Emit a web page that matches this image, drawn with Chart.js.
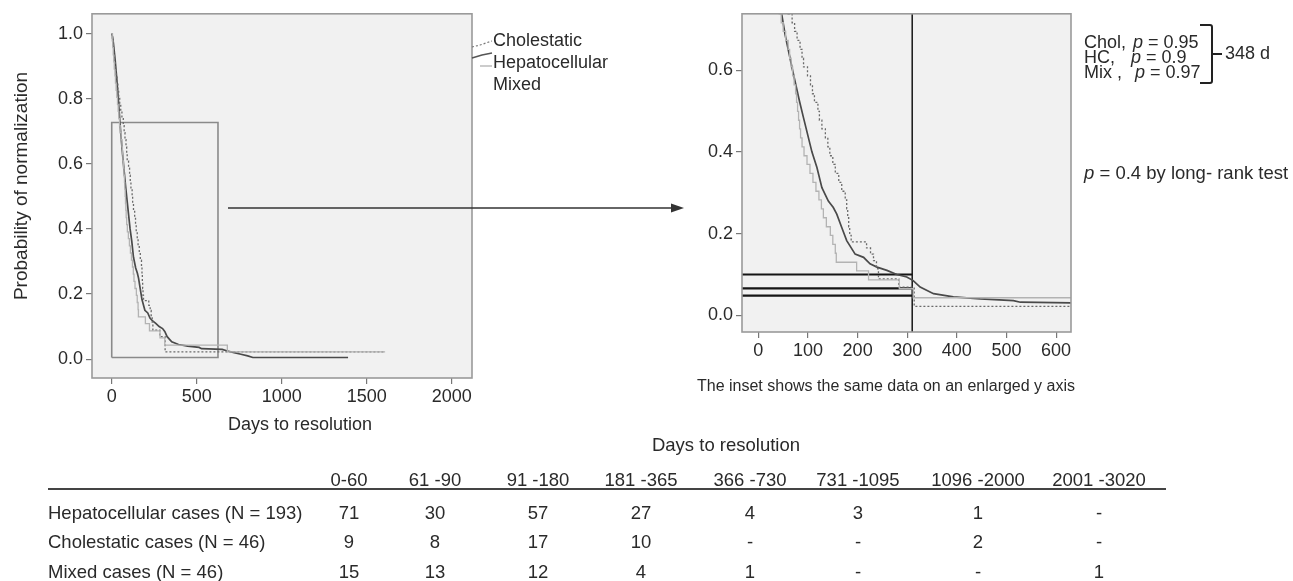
<!DOCTYPE html>
<html><head><meta charset="utf-8">
<script src="https://cdn.jsdelivr.net/npm/chart.js@4.4.1/dist/chart.umd.min.js"></script>
<style>
html,body{margin:0;padding:0;background:#fff;}
body{width:1293px;height:581px;position:relative;overflow:hidden;font-family:"Liberation Sans",Arial,sans-serif;color:#2a2a2a;}
.t{position:absolute;white-space:pre;line-height:1;font-size:18px;transform:translateY(-50%);}
.c{transform:translate(-50%,-50%);}
.tb{font-size:18.5px;}
#leftWrap{position:absolute;left:0;top:0;}
#rightWrap{position:absolute;left:690px;top:0;}
#ov{position:absolute;left:0;top:0;pointer-events:none;}
i{font-style:italic;}
</style></head><body>
<div id="leftWrap"><canvas id="left" width="490" height="420"></canvas></div>
<div id="rightWrap"><canvas id="right" width="400" height="370"></canvas></div>
<svg id="ov" width="1293" height="581">
  <line x1="228" y1="208" x2="673" y2="208" stroke="#333" stroke-width="1.5"/>
  <polygon points="684,208 671,203.5 671,212.5" fill="#333"/>
  <polyline points="472,47 480,45 492,41" fill="none" stroke="#777" stroke-width="1.2" stroke-dasharray="2,2"/>
  <polyline points="472,58 482,55 492,53" fill="none" stroke="#555" stroke-width="1.4"/>
  <polyline points="480,66 492,66" fill="none" stroke="#aaa" stroke-width="1.2"/>
  <path d="M1200,25 L1210,25 Q1212,25 1212,27 L1212,81 Q1212,83 1210,83 L1200,83" fill="none" stroke="#222" stroke-width="2"/>
  <line x1="1212" y1="54" x2="1222" y2="54" stroke="#222" stroke-width="2"/>
</svg>
<div id="texts"></div>
<script>
// ---------------- data ----------------
const seriesNames = ['Cholestatic', 'Hepatocellular', 'Mixed'];

const hepDays = [0, 5, 10, 20, 30, 40, 47, 54, 69, 83, 91, 108, 118, 128, 141, 151, 158, 168, 178, 195, 212, 225, 239, 259, 279, 299, 312, 326, 353, 393, 447, 514, 528, 650, 680, 720, 760, 800, 830, 1390];
const hepSurv = [1.0, 0.99, 0.97, 0.92, 0.86, 0.79, 0.738, 0.687, 0.6, 0.524, 0.484, 0.4, 0.362, 0.313, 0.28, 0.264, 0.248, 0.215, 0.183, 0.15, 0.142, 0.126, 0.118, 0.11, 0.1, 0.094, 0.085, 0.069, 0.053, 0.045, 0.04, 0.036, 0.032, 0.03, 0.025, 0.02, 0.015, 0.01, 0.005, 0.005];

const cholDays = [0, 4, 8, 12, 16, 21, 26, 31, 36, 41, 47, 53, 60, 68, 73, 78, 84, 88, 91, 99, 105, 109, 113, 120, 123, 128, 135, 140, 144, 150, 155, 162, 168, 175, 178, 180, 182, 184, 187, 218, 226, 232, 238, 242, 283, 314, 1608];
const cholSurv = [1.0, 0.978, 0.957, 0.935, 0.913, 0.891, 0.870, 0.848, 0.826, 0.804, 0.783, 0.761, 0.739, 0.717, 0.696, 0.674, 0.652, 0.630, 0.609, 0.587, 0.565, 0.543, 0.522, 0.500, 0.478, 0.457, 0.435, 0.413, 0.391, 0.370, 0.348, 0.326, 0.304, 0.283, 0.261, 0.239, 0.217, 0.196, 0.180, 0.165, 0.150, 0.134, 0.114, 0.089, 0.069, 0.022, 0.022];

const mixDays = [0, 3, 6, 9, 12, 15, 19, 22, 26, 30, 34, 38, 42, 46, 50, 55, 60, 63, 66, 69, 72, 75, 77, 79, 81, 83, 85, 88, 92, 98, 104, 110, 116, 122, 127, 131, 137, 145, 150, 155, 157, 198, 222, 284, 312, 680, 1608];
const mixSurv = [1.0, 0.978, 0.957, 0.935, 0.913, 0.891, 0.870, 0.848, 0.826, 0.804, 0.783, 0.761, 0.739, 0.717, 0.696, 0.674, 0.652, 0.630, 0.609, 0.587, 0.565, 0.543, 0.522, 0.500, 0.478, 0.457, 0.435, 0.413, 0.391, 0.370, 0.348, 0.326, 0.304, 0.283, 0.261, 0.239, 0.217, 0.196, 0.174, 0.152, 0.130, 0.109, 0.087, 0.065, 0.043, 0.022, 0.022];

const leftXTicks = [0, 500, 1000, 1500, 2000];
const leftYTicks = [0.0, 0.2, 0.4, 0.6, 0.8, 1.0];
const rightXTicks = [0, 100, 200, 300, 400, 500, 600];
const rightYTicks = [0.0, 0.2, 0.4, 0.6];

const insetBoxX = [0, 625];
const insetBoxY = [0.005, 0.727];
const medianDay = 310;
const refLevels = [0.1, 0.066, 0.048];

const tableCols = ['0-60', '61 -90', '91 -180', '181 -365', '366 -730', '731 -1095', '1096 -2000', '2001 -3020'];
const tableRows = ['Hepatocellular cases (N = 193)', 'Cholestatic cases (N = 46)', 'Mixed cases (N = 46)'];
const hepCounts = ['71', '30', '57', '27', '4', '3', '1', '-'];
const cholCounts = ['9', '8', '17', '10', '-', '-', '2', '-'];
const mixCounts = ['15', '13', '12', '4', '1', '-', '-', '1'];

// ---------------- layout ----------------
const FONT = '"Liberation Sans", Arial, sans-serif';
const TXT = '#2a2a2a';
const colCenters = [349, 435, 538, 641, 750, 858, 978, 1099];
const rowY = [513, 542, 572];

function pts(xs, ys) { return xs.map((x, i) => ({x: x, y: ys[i]})); }

const framePlugin = {
  id: 'frame',
  beforeDatasetsDraw(chart) {
    const a = chart.chartArea, ctx = chart.ctx;
    ctx.save(); ctx.fillStyle = '#f1f1f1';
    ctx.fillRect(a.left, a.top, a.right - a.left, a.bottom - a.top);
    ctx.restore();
  },
  afterDraw(chart) {
    const a = chart.chartArea, ctx = chart.ctx;
    ctx.save(); ctx.strokeStyle = '#9a9a9a'; ctx.lineWidth = 1.6;
    ctx.strokeRect(a.left, a.top, a.right - a.left, a.bottom - a.top);
    ctx.restore();
  }
};

function curveSets() {
  return [
    {data: pts(mixDays, mixSurv), borderColor: '#b3b3b3', borderWidth: 1.3, stepped: true},
    {data: pts(cholDays, cholSurv), borderColor: '#6a6a6a', borderWidth: 1.3, borderDash: [2, 2], stepped: true},
    {data: pts(hepDays, hepSurv), borderColor: '#4a4a4a', borderWidth: 1.7}
  ];
}

function axis(min, max, tickVals, fit, isY, fmt) {
  return {
    type: 'linear', min: min, max: max,
    afterBuildTicks: s => { s.ticks = tickVals.map(v => ({value: v})); },
    afterFit: fit,
    grid: {display: true, drawOnChartArea: false, drawTicks: true, tickLength: 6, color: '#777', lineWidth: 1.2},
    border: {display: false},
    ticks: {color: TXT, font: {family: FONT, size: 18}, padding: isY ? 3 : 2, maxRotation: 0, autoSkip: false, callback: fmt}
  };
}

const commonOpts = {
  responsive: false, animation: false,
  plugins: {legend: {display: false}, tooltip: {enabled: false}},
  elements: {point: {radius: 0}, line: {tension: 0}}
};

const leftSets = curveSets();
leftSets.push({
  data: pts([insetBoxX[0], insetBoxX[1], insetBoxX[1], insetBoxX[0], insetBoxX[0]],
            [insetBoxY[0], insetBoxY[0], insetBoxY[1], insetBoxY[1], insetBoxY[0]]),
  borderColor: '#8a8a8a', borderWidth: 1.6
});

new Chart(document.getElementById('left'), {
  type: 'line',
  data: {datasets: leftSets},
  options: Object.assign({}, commonOpts, {
    layout: {padding: {top: 13, right: 18, left: 0, bottom: 0}},
    scales: {
      x: axis(-116, 2119, leftXTicks, s => { s.height = 42; }, false, v => String(v)),
      y: axis(-0.058, 1.061, leftYTicks, s => { s.width = 92; }, true, v => v.toFixed(1))
    }
  }),
  plugins: [framePlugin]
});

const R_XMIN = -33, R_XMAX = 630, R_YMIN = -0.041, R_YMAX = 0.739;
const rightSets = curveSets();
refLevels.forEach(lv => rightSets.push({data: pts([R_XMIN, medianDay], [lv, lv]), borderColor: '#151515', borderWidth: 2.2}));
rightSets.push({data: pts([medianDay, medianDay], [R_YMIN, R_YMAX]), borderColor: '#151515', borderWidth: 1.5});

new Chart(document.getElementById('right'), {
  type: 'line',
  data: {datasets: rightSets},
  options: Object.assign({}, commonOpts, {
    layout: {padding: {top: 12, right: 19, left: 0, bottom: 0}},
    scales: {
      x: axis(R_XMIN, R_XMAX, rightXTicks, s => { s.height = 38; }, false, v => String(v)),
      y: axis(R_YMIN, R_YMAX, rightYTicks, s => { s.width = 52; }, true, v => v.toFixed(1))
    }
  }),
  plugins: [framePlugin]
});

// ---------------- texts ----------------
const T = document.getElementById('texts');
function txt(html, x, y, cls, extra) {
  const d = document.createElement('div');
  d.className = 't' + (cls ? ' ' + cls : '');
  d.style.left = x + 'px'; d.style.top = y + 'px';
  if (extra) Object.assign(d.style, extra);
  d.innerHTML = html; T.appendChild(d); return d;
}
// y title (rotated)
txt('Probability of normalization', 20, 186, '', {fontSize: '19px', transform: 'translate(-50%,-50%) rotate(-90deg)'});
txt('Days to resolution', 300, 424, 'c');
// legend
txt(seriesNames[0], 493, 40);
txt(seriesNames[1], 493, 62);
txt(seriesNames[2], 493, 84);
// right annotations
txt('Chol,', 1084, 42); txt('<i>p</i> = 0.95', 1133, 42);
txt('HC,', 1084, 57);   txt('<i>p</i> = 0.9', 1131, 57);
txt('Mix ,', 1084, 72); txt('<i>p</i> = 0.97', 1135, 72);
txt('348 d', 1225, 53);
txt('<i>p</i> = 0.4 by long- rank test', 1084, 173, '', {fontSize: '18.5px'});
txt('The inset shows the same data on an enlarged y axis', 697, 386, '', {fontSize: '16px'});
// table
txt('Days to resolution', 726, 445, 'c tb');
tableCols.forEach((c, i) => txt(c, colCenters[i], 480, 'c tb'));
const line = document.createElement('div');
Object.assign(line.style, {position: 'absolute', left: '48px', top: '488px', width: '1118px', height: '2px', background: '#444'});
T.appendChild(line);
[hepCounts, cholCounts, mixCounts].forEach((row, r) => {
  txt(tableRows[r], 48, rowY[r], 'tb');
  row.forEach((v, i) => txt(v, colCenters[i], rowY[r], 'c tb'));
});
</script>
</body></html>
